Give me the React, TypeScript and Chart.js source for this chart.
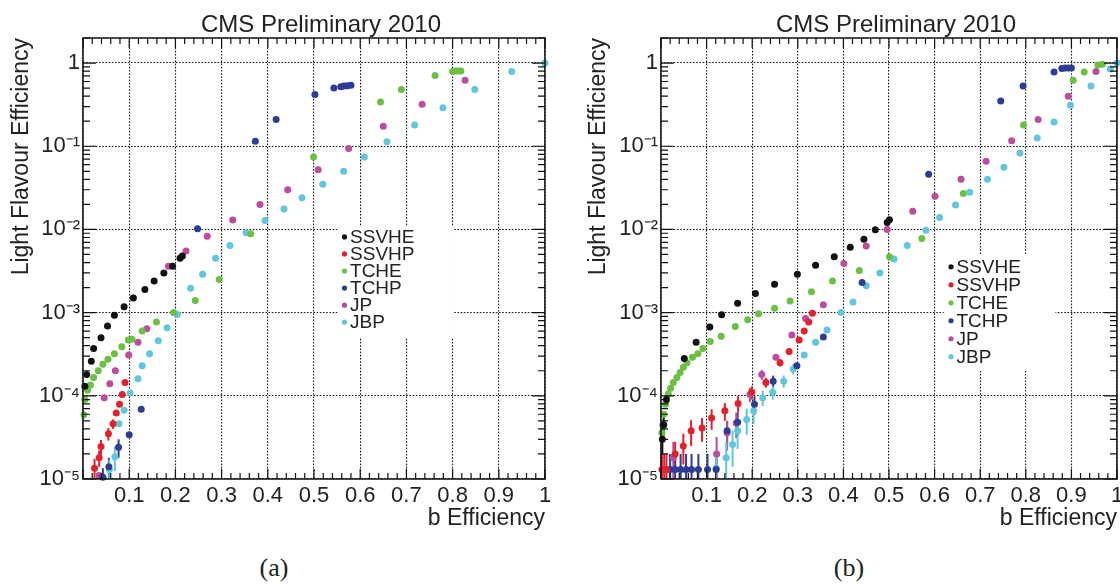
import React, { useEffect, useRef } from "react";
import { Chart, registerables } from "chart.js";

Chart.register(...registerables);

// ---------- labels ----------
const SERIES = ["SSVHE", "SSVHP", "TCHE", "TCHP", "JP", "JBP"];
const COLORS = ["#111111", "#e4202a", "#6bc043", "#2d3c94", "#bd4b9e", "#60c7dc"];
const TITLE = "CMS Preliminary 2010";
const X_TITLE = "b Efficiency";
const Y_TITLE = "Light Flavour Efficiency";
const X_TICKS = [0, 0.1, 0.2, 0.3, 0.4, 0.5, 0.6, 0.7, 0.8, 0.9, 1.0];
const Y_TICKS = [1e-5, 1e-4, 1e-3, 1e-2, 1e-1, 1];
const CAPTIONS = ["(a)", "(b)"];

// ---------- panel (a) ----------
const A_SSVHE_X = [0.004, 0.008, 0.018, 0.023, 0.039, 0.053, 0.068, 0.089, 0.109, 0.134, 0.154, 0.175, 0.194, 0.21, 0.215];
const A_SSVHE_Y = [1.3e-4, 1.8e-4, 2.6e-4, 3.7e-4, 5.0e-4, 6.9e-4, 9.3e-4, 1.18e-3, 1.5e-3, 1.9e-3, 2.4e-3, 3.0e-3, 3.6e-3, 4.5e-3, 4.8e-3];

const A_SSVHP_X = [0.025, 0.035, 0.039, 0.055, 0.065, 0.072, 0.079, 0.085, 0.091];
const A_SSVHP_Y = [1.35e-5, 1.8e-5, 2.45e-5, 3.5e-5, 4.6e-5, 6.2e-5, 7.9e-5, 1.04e-4, 1.45e-4];
const A_SSVHP_E = [4e-6, 4e-6, 5e-6, 6e-6, 6e-6, 0, 0, 0, 0];

const A_TCHE_X = [0.002, 0.004, 0.01, 0.016, 0.023, 0.033, 0.043, 0.054, 0.068, 0.084, 0.098, 0.106, 0.128, 0.159, 0.196, 0.243, 0.295, 0.363, 0.499, 0.644, 0.689, 0.762, 0.8, 0.806, 0.812, 0.818];
const A_TCHE_Y = [5.9e-5, 9e-5, 1.17e-4, 1.35e-4, 1.66e-4, 2.0e-4, 2.4e-4, 2.75e-4, 3.2e-4, 3.9e-4, 4.7e-4, 4.8e-4, 6.0e-4, 7.7e-4, 1.0e-3, 1.4e-3, 2.5e-3, 8.9e-3, 0.074, 0.34, 0.48, 0.71, 0.79, 0.8, 0.8, 0.8];

const A_TCHP_X = [0.043, 0.056, 0.077, 0.1, 0.126, 0.248, 0.373, 0.418, 0.502, 0.543, 0.558, 0.565, 0.572, 0.58];
const A_TCHP_Y = [1.05e-5, 1.4e-5, 2.4e-5, 3.4e-5, 6.9e-5, 0.0102, 0.115, 0.21, 0.42, 0.5, 0.52, 0.53, 0.535, 0.54];
const A_TCHP_E = [3e-6, 4e-6, 6e-6, 0, 0, 0, 0, 0, 0, 0, 0, 0, 0, 0];

const A_JP_X = [0.035, 0.046, 0.058, 0.07, 0.099, 0.119, 0.138, 0.185, 0.223, 0.269, 0.324, 0.383, 0.443, 0.509, 0.575, 0.65, 0.734, 0.827];
const A_JP_Y = [1.1e-5, 9.5e-5, 1.4e-4, 2.0e-4, 3.1e-4, 4.4e-4, 6.4e-4, 3.6e-3, 5.5e-3, 8.3e-3, 0.013, 0.02, 0.03, 0.052, 0.094, 0.174, 0.32, 0.62];

const A_JBP_X = [0.057, 0.069, 0.078, 0.089, 0.102, 0.119, 0.128, 0.144, 0.163, 0.182, 0.204, 0.233, 0.259, 0.287, 0.318, 0.353, 0.394, 0.435, 0.474, 0.519, 0.564, 0.609, 0.658, 0.718, 0.779, 0.848, 0.928, 1.0];
const A_JBP_Y = [1.3e-5, 1.85e-5, 4.6e-5, 6.7e-5, 1.08e-4, 1.6e-4, 2.3e-4, 3.2e-4, 4.6e-4, 6.6e-4, 9.5e-4, 1.96e-3, 2.9e-3, 4.5e-3, 6.4e-3, 9.1e-3, 0.0128, 0.0176, 0.024, 0.035, 0.05, 0.074, 0.113, 0.18, 0.29, 0.48, 0.79, 1.0];
const A_JBP_E = [4e-6, 6e-6, 0, 0, 0, 0, 0, 0, 0, 0, 0, 0, 0, 0, 0, 0, 0, 0, 0, 0, 0, 0, 0, 0, 0, 0, 0, 0];

// ---------- panel (b) ----------
const B_SSVHE_X = [0.003, 0.006, 0.012, 0.051, 0.077, 0.107, 0.133, 0.168, 0.207, 0.249, 0.299, 0.339, 0.38, 0.415, 0.445, 0.47, 0.496, 0.501];
const B_SSVHE_Y = [3.0e-5, 4.5e-5, 9.0e-5, 2.8e-4, 4.4e-4, 6.7e-4, 9.4e-4, 1.3e-3, 1.7e-3, 2.2e-3, 2.9e-3, 3.7e-3, 4.7e-3, 6.1e-3, 7.6e-3, 9.9e-3, 0.0121, 0.0131];
const B_SSVHE_E = [1.0e-5, 1.2e-5, 0, 0, 0, 0, 0, 0, 0, 0, 0, 0, 0, 0, 0, 0, 0, 0];

const B_SSVHP_X = [0.002, 0.007, 0.012, 0.031, 0.049, 0.066, 0.09, 0.111, 0.14, 0.169, 0.199, 0.23, 0.261, 0.281, 0.303, 0.314, 0.324, 0.332];
const B_SSVHP_Y = [1.3e-5, 1.3e-5, 1.3e-5, 2.0e-5, 2.5e-5, 3.8e-5, 4.1e-5, 5.4e-5, 6.6e-5, 8.1e-5, 1.1e-4, 1.45e-4, 2.5e-4, 3.4e-4, 4.7e-4, 6.0e-4, 7.7e-4, 9.8e-4];
const B_SSVHP_E = [7e-6, 7e-6, 7e-6, 8e-6, 1e-5, 1.3e-5, 1.3e-5, 1.5e-5, 1.6e-5, 1.8e-5, 2e-5, 2e-5, 2.5e-5, 3e-5, 0, 0, 0, 0];

const B_TCHE_X = [0.002, 0.004, 0.006, 0.01, 0.016, 0.021, 0.027, 0.035, 0.042, 0.049, 0.057, 0.069, 0.081, 0.092, 0.108, 0.132, 0.163, 0.19, 0.214, 0.249, 0.283, 0.33, 0.376, 0.435, 0.501, 0.572, 0.663, 0.795, 0.904, 0.928, 0.958, 0.968];
const B_TCHE_Y = [3.6e-5, 4.4e-5, 6.0e-5, 7.9e-5, 1.05e-4, 1.23e-4, 1.45e-4, 1.66e-4, 1.9e-4, 2.2e-4, 2.5e-4, 2.9e-4, 3.2e-4, 3.7e-4, 4.5e-4, 5.2e-4, 6.8e-4, 8.2e-4, 9.7e-4, 1.13e-3, 1.38e-3, 1.78e-3, 2.4e-3, 3.2e-3, 4.7e-3, 7.8e-3, 0.027, 0.18, 0.62, 0.78, 0.95, 0.97];

const B_TCHP_X = [0.02, 0.031, 0.043, 0.055, 0.067, 0.082, 0.102, 0.121, 0.145, 0.168, 0.205, 0.246, 0.298, 0.356, 0.441, 0.587, 0.745, 0.794, 0.862, 0.879, 0.886, 0.893, 0.9];
const B_TCHP_Y = [1.3e-5, 1.3e-5, 1.3e-5, 1.3e-5, 1.3e-5, 1.3e-5, 1.3e-5, 1.3e-5, 3.8e-5, 4.8e-5, 7.9e-5, 1.5e-4, 2.3e-4, 5.1e-4, 2.3e-3, 0.046, 0.35, 0.53, 0.78, 0.86, 0.87, 0.87, 0.87];
const B_TCHP_E = [7e-6, 7e-6, 7e-6, 7e-6, 7e-6, 7e-6, 7e-6, 7e-6, 1.2e-5, 1.5e-5, 2e-5, 2.5e-5, 0, 0, 0, 0, 0, 0, 0, 0, 0, 0, 0];

const B_JP_X = [0.027, 0.122, 0.145, 0.165, 0.195, 0.221, 0.252, 0.287, 0.317, 0.356, 0.401, 0.45, 0.496, 0.552, 0.601, 0.658, 0.713, 0.769, 0.827, 0.893, 0.954];
const B_JP_Y = [1.8e-5, 2.0e-5, 3.6e-5, 4.7e-5, 1.04e-4, 1.8e-4, 2.9e-4, 5.4e-4, 8.5e-4, 1.24e-3, 3.9e-3, 6.3e-3, 0.01, 0.0165, 0.025, 0.04, 0.066, 0.116, 0.21, 0.4, 0.79];
const B_JP_E = [1e-5, 1.2e-5, 1.4e-5, 1.6e-5, 2e-5, 2.5e-5, 0, 0, 0, 0, 0, 0, 0, 0, 0, 0, 0, 0, 0, 0, 0];

const B_JBP_X = [0.121, 0.143, 0.157, 0.168, 0.188, 0.203, 0.223, 0.245, 0.269, 0.29, 0.314, 0.339, 0.364, 0.395, 0.421, 0.45, 0.48, 0.511, 0.54, 0.581, 0.611, 0.646, 0.677, 0.716, 0.752, 0.787, 0.825, 0.862, 0.898, 0.943, 0.985, 1.0];
const B_JBP_Y = [1.35e-5, 1.8e-5, 2.6e-5, 3.8e-5, 5.2e-5, 6.6e-5, 9.5e-5, 1.1e-4, 1.5e-4, 2.1e-4, 3.1e-4, 4.4e-4, 6.2e-4, 1.0e-3, 1.34e-3, 2.1e-3, 3.0e-3, 4.4e-3, 6.4e-3, 9.8e-3, 0.0139, 0.0196, 0.028, 0.04, 0.056, 0.083, 0.126, 0.196, 0.31, 0.53, 0.85, 1.0];
const B_JBP_E = [8e-6, 1e-5, 1.2e-5, 1.5e-5, 1.8e-5, 2e-5, 2e-5, 2e-5, 2.5e-5, 3e-5, 0, 0, 0, 0, 0, 0, 0, 0, 0, 0, 0, 0, 0, 0, 0, 0, 0, 0, 0, 0, 0, 0];

const FONT = '"Liberation Sans", Arial, Helvetica, sans-serif';
const SUP: Record<string, string> = { "-": "\u207B", "0": "\u2070", "1": "\u00B9", "2": "\u00B2", "3": "\u00B3", "4": "\u2074", "5": "\u2075" };

function yLabel(v: number): string {
  const e = Math.round(Math.log10(v));
  if (e === 0) return "1";
  return "10" + String(e).split("").map((c) => SUP[c] || c).join("");
}

type Series = { xs: number[]; ys: number[]; es?: number[] };

function buildDatasets(list: Series[]) {
  return list.map((s, k) => ({
    label: SERIES[k],
    data: s.xs.map((x, i) => ({ x, y: s.ys[i] })),
    errs: s.es,
    backgroundColor: COLORS[k],
    borderColor: COLORS[k],
    pointRadius: 3.5,
    pointHoverRadius: 3.5,
    pointBorderWidth: 0,
    showLine: false,
    clip: false as const,
  }));
}

const decor = {
  id: "decor",
  beforeDatasetsDraw(chart: any, _a: any, opts: any) {
    const { ctx, scales } = chart;
    const x = scales.x;
    const y = scales.y;
    const lg = opts.legend;
    ctx.save();
    ctx.fillStyle = "#ffffff";
    const l = x.getPixelForValue(lg.x0);
    const r = x.getPixelForValue(lg.x1);
    const t = y.getPixelForValue(lg.yTop);
    const b = y.getPixelForValue(lg.yBot);
    ctx.fillRect(l, t, r - l, b - t);
    // error bars
    chart.data.datasets.forEach((ds: any) => {
      if (!ds.errs) return;
      ctx.strokeStyle = ds.borderColor;
      ctx.lineWidth = 2;
      ds.data.forEach((p: any, i: number) => {
        const e = ds.errs[i];
        if (!e) return;
        const px = x.getPixelForValue(p.x);
        const lo = Math.max(p.y - e, y.min);
        ctx.beginPath();
        ctx.moveTo(px, y.getPixelForValue(lo));
        ctx.lineTo(px, y.getPixelForValue(p.y + e));
        ctx.stroke();
      });
    });
    ctx.restore();
  },
  afterDatasetsDraw(chart: any, _a: any, opts: any) {
    const { ctx, chartArea: ca, scales } = chart;
    const x = scales.x;
    const y = scales.y;
    ctx.save();
    // frame
    ctx.strokeStyle = "#111";
    ctx.lineWidth = 1.5;
    ctx.strokeRect(ca.left, ca.top, ca.right - ca.left, ca.bottom - ca.top);
    // inward ticks on x
    ctx.lineWidth = 1.2;
    ctx.beginPath();
    for (let i = 0; i <= 50; i++) {
      const px = x.getPixelForValue(i / 50);
      const len = i % 5 === 0 ? 10 : 6;
      ctx.moveTo(px, ca.bottom);
      ctx.lineTo(px, ca.bottom - len);
      ctx.moveTo(px, ca.top);
      ctx.lineTo(px, ca.top + len);
    }
    // inward ticks on y (log)
    for (let e = -5; e <= 0; e++) {
      for (let m = 1; m <= 9; m++) {
        const v = m * Math.pow(10, e);
        if (v > y.max + 1e-9) break;
        const py = y.getPixelForValue(v);
        const len = m === 1 ? 13 : 7;
        ctx.moveTo(ca.left, py);
        ctx.lineTo(ca.left + len, py);
        ctx.moveTo(ca.right, py);
        ctx.lineTo(ca.right - len, py);
      }
    }
    ctx.stroke();
    // legend entries
    const lg = opts.legend;
    ctx.font = `19px ${FONT}`;
    ctx.textBaseline = "middle";
    ctx.textAlign = "left";
    chart.data.datasets.forEach((ds: any, i: number) => {
      const py = y.getPixelForValue(Math.pow(10, lg.row0 - i * lg.step));
      ctx.fillStyle = ds.backgroundColor;
      ctx.beginPath();
      ctx.arc(x.getPixelForValue(lg.mx), py, 2.6, 0, Math.PI * 2);
      ctx.fill();
      ctx.fillStyle = "#222";
      ctx.fillText(ds.label, x.getPixelForValue(lg.tx), py + 1);
    });
    // title
    ctx.font = `24px ${FONT}`;
    ctx.textAlign = "center";
    ctx.textBaseline = "alphabetic";
    ctx.fillStyle = "#222";
    ctx.fillText(TITLE, (ca.left + ca.right) / 2 + 7, 32);
    ctx.restore();
  },
};

type PanelProps = {
  series: Series[];
  left: number;
  width: number;
  areaLeft: number;
  areaRight: number;
  yTitlePad: number;
  legend: any;
};

const H = 540;
const AREA_TOP = 38;
const AREA_BOTTOM = 479;

function Panel(p: PanelProps) {
  const ref = useRef<HTMLCanvasElement>(null);
  useEffect(() => {
    if (!ref.current) return;
    const grid = { color: "rgba(0,0,0,0.9)", lineWidth: 1.1, drawTicks: false };
    const chart = new Chart(ref.current, {
      type: "scatter",
      data: { datasets: buildDatasets(p.series) as any },
      options: {
        animation: false,
        responsive: false,
        devicePixelRatio: 1,
        events: [],
        layout: { padding: { left: 0, top: AREA_TOP, right: p.width - p.areaRight, bottom: 0 } },
        plugins: {
          legend: { display: false },
          tooltip: { enabled: false },
          decor: { legend: p.legend },
        } as any,
        scales: {
          x: {
            type: "linear",
            min: 0,
            max: 1,
            afterBuildTicks: (s: any) => {
              s.ticks = X_TICKS.map((v) => ({ value: v }));
            },
            afterFit: (s: any) => {
              s.height = H - AREA_BOTTOM;
            },
            ticks: {
              autoSkip: false,
              maxRotation: 0,
              padding: 4,
              color: "#222",
              font: { family: FONT, size: 22 },
              callback: (v: any) => (v === 0 ? "" : v === 1 ? "1" : Number(v).toFixed(1)),
            },
            grid,
            border: { display: false, dash: [1.6, 1.6] },
            title: {
              display: true,
              text: X_TITLE,
              align: "end",
              color: "#222",
              font: { family: FONT, size: 23 },
              padding: { top: 0, bottom: 8 },
            },
          },
          y: {
            type: "logarithmic",
            min: 1e-5,
            max: 2,
            afterBuildTicks: (s: any) => {
              s.ticks = Y_TICKS.map((v) => ({ value: v }));
            },
            afterFit: (s: any) => {
              s.width = p.areaLeft;
            },
            ticks: {
              autoSkip: false,
              padding: 3,
              color: "#222",
              font: { family: FONT, size: 22 },
              callback: (v: any) => yLabel(Number(v)),
            },
            grid,
            border: { display: false, dash: [1.6, 1.6] },
            title: {
              display: true,
              text: Y_TITLE,
              align: "end",
              color: "#222",
              font: { family: FONT, size: 23 },
              padding: { top: p.yTitlePad, bottom: 0 },
            },
          },
        },
      } as any,
      plugins: [decor as any],
    });
    return () => chart.destroy();
  }, []);
  return (
    <canvas
      ref={ref}
      width={p.width}
      height={H}
      style={{ position: "absolute", left: p.left, top: 0, width: p.width, height: H }}
    />
  );
}

const PANEL_A: Series[] = [
  { xs: A_SSVHE_X, ys: A_SSVHE_Y },
  { xs: A_SSVHP_X, ys: A_SSVHP_Y, es: A_SSVHP_E },
  { xs: A_TCHE_X, ys: A_TCHE_Y },
  { xs: A_TCHP_X, ys: A_TCHP_Y, es: A_TCHP_E },
  { xs: A_JP_X, ys: A_JP_Y },
  { xs: A_JBP_X, ys: A_JBP_Y, es: A_JBP_E },
];

const PANEL_B: Series[] = [
  { xs: B_SSVHE_X, ys: B_SSVHE_Y, es: B_SSVHE_E },
  { xs: B_SSVHP_X, ys: B_SSVHP_Y, es: B_SSVHP_E },
  { xs: B_TCHE_X, ys: B_TCHE_Y },
  { xs: B_TCHP_X, ys: B_TCHP_Y, es: B_TCHP_E },
  { xs: B_JP_X, ys: B_JP_Y, es: B_JP_E },
  { xs: B_JBP_X, ys: B_JBP_Y, es: B_JBP_E },
];

const LEGEND_A = { x0: 0.551, x1: 0.802, yTop: Math.pow(10, -1.96), yBot: Math.pow(10, -3.3), mx: 0.566, tx: 0.578, row0: -2.09, step: 0.205 };
const LEGEND_B = { x0: 0.62, x1: 0.865, yTop: Math.pow(10, -2.3), yBot: Math.pow(10, -3.7), mx: 0.636, tx: 0.648, row0: -2.45, step: 0.216 };

export default function App() {
  return (
    <div
      style={{
        position: "absolute",
        left: 0,
        top: 0,
        width: 1120,
        height: 584,
        overflow: "hidden",
        background: "#ffffff",
      }}
    >
      <Panel series={PANEL_A} left={0} width={560} areaLeft={83} areaRight={545} yTitlePad={8} legend={LEGEND_A} />
      <Panel series={PANEL_B} left={560} width={620} areaLeft={101} areaRight={557} yTitlePad={25} legend={LEGEND_B} />
      {CAPTIONS.map((c, i) => (
        <div
          key={c}
          style={{
            position: "absolute",
            left: (i === 0 ? 274 : 849) - 50,
            top: 553,
            width: 100,
            height: 30,
            lineHeight: "30px",
            textAlign: "center",
            fontFamily: '"Liberation Serif", "DejaVu Serif", serif',
            fontSize: 26,
            color: "#222",
          }}
        >
          {c}
        </div>
      ))}
    </div>
  );
}
